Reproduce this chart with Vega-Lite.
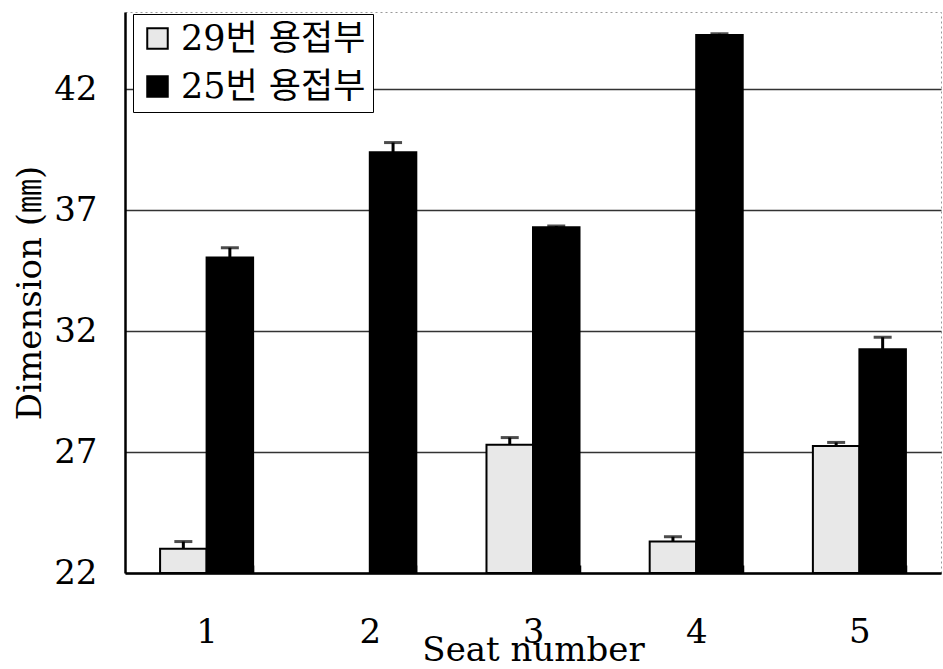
{
  "$schema": "https://vega.github.io/schema/vega-lite/v6.json",
  "autosize": "none",
  "width": 816,
  "height": 561,
  "padding": {"left": 125, "top": 12, "right": 2, "bottom": 96},
  "background": "white",
  "config": {
    "font": "DejaVu Serif, Noto Sans CJK KR",
    "view": {"stroke": "#999", "strokeWidth": 1, "strokeDash": [2, 3]}
  },
  "data": {
    "values": [
      {"seat": "1", "series": "29번 용접부", "value": 23.0, "upper": 23.3},
      {"seat": "1", "series": "25번 용접부", "value": 35.05, "upper": 35.45},
      {"seat": "2", "series": "25번 용접부", "value": 39.4, "upper": 39.8},
      {"seat": "3", "series": "29번 용접부", "value": 27.3, "upper": 27.6},
      {"seat": "3", "series": "25번 용접부", "value": 36.3, "upper": 36.35},
      {"seat": "4", "series": "29번 용접부", "value": 23.3, "upper": 23.5},
      {"seat": "4", "series": "25번 용접부", "value": 44.25, "upper": 44.3},
      {"seat": "5", "series": "29번 용접부", "value": 27.25, "upper": 27.4},
      {"seat": "5", "series": "25번 용접부", "value": 31.25, "upper": 31.75}
    ]
  },
  "encoding": {
    "x": {
      "field": "seat",
      "type": "nominal",
      "scale": {"paddingInner": 0.43, "paddingOuter": 0.215},
      "axis": {
        "title": "Seat number",
        "titleFontSize": 34,
        "titleFontWeight": "normal",
        "titleColor": "black",
        "titleY": 87,
        "titleBaseline": "alphabetic",
        "labelAngle": 0,
        "labelFontSize": 34,
        "labelColor": "black",
        "labelPadding": 50,
        "tickBand": "extent",
        "tickSize": -8,
        "tickColor": "black",
        "tickWidth": 1.5,
        "domainColor": "black",
        "domainWidth": 2.5
      }
    },
    "xOffset": {
      "field": "series",
      "type": "nominal",
      "sort": ["29번 용접부", "25번 용접부"],
      "scale": {"paddingInner": 0, "paddingOuter": 0}
    }
  },
  "layer": [
    {
      "mark": {"type": "bar", "stroke": "black", "strokeWidth": 2},
      "encoding": {
        "y": {
          "field": "value",
          "type": "quantitative",
          "scale": {"domain": [22, 45.2], "zero": false, "nice": false},
          "axis": {
            "title": "Dimension (㎜)",
            "titleFontSize": 34,
            "titleFontWeight": "normal",
            "titleColor": "black",
            "titlePadding": 6,
            "values": [22, 27, 32, 37, 42],
            "labelFontSize": 34,
            "labelColor": "black",
            "labelPadding": 28,
            "tickSize": 0,
            "grid": true,
            "gridColor": "#333",
            "gridWidth": 1.5,
            "domainColor": "black",
            "domainWidth": 2.5
          }
        },
        "y2": {"datum": 22},
        "fill": {
          "field": "series",
          "type": "nominal",
          "sort": ["29번 용접부", "25번 용접부"],
          "scale": {"range": ["#e8e8e8", "black"]},
          "legend": {
            "orient": "none",
            "legendX": 8,
            "legendY": 2,
            "title": null,
            "symbolType": "square",
            "symbolSize": 420,
            "symbolStrokeColor": "black",
            "symbolStrokeWidth": 2,
            "labelFontSize": 35,
            "labelColor": "black",
            "labelLimit": 400,
            "labelOffset": 6,
            "rowPadding": 12,
            "strokeColor": "black",
            "fillColor": "white",
            "padding": 7
          }
        }
      }
    },
    {
      "mark": {"type": "rule", "color": "black", "strokeWidth": 3},
      "encoding": {
        "y": {"field": "value", "type": "quantitative"},
        "y2": {"field": "upper"}
      }
    },
    {
      "mark": {"type": "tick", "color": "black", "thickness": 3, "size": 18},
      "encoding": {
        "y": {"field": "upper", "type": "quantitative"}
      }
    }
  ]
}
